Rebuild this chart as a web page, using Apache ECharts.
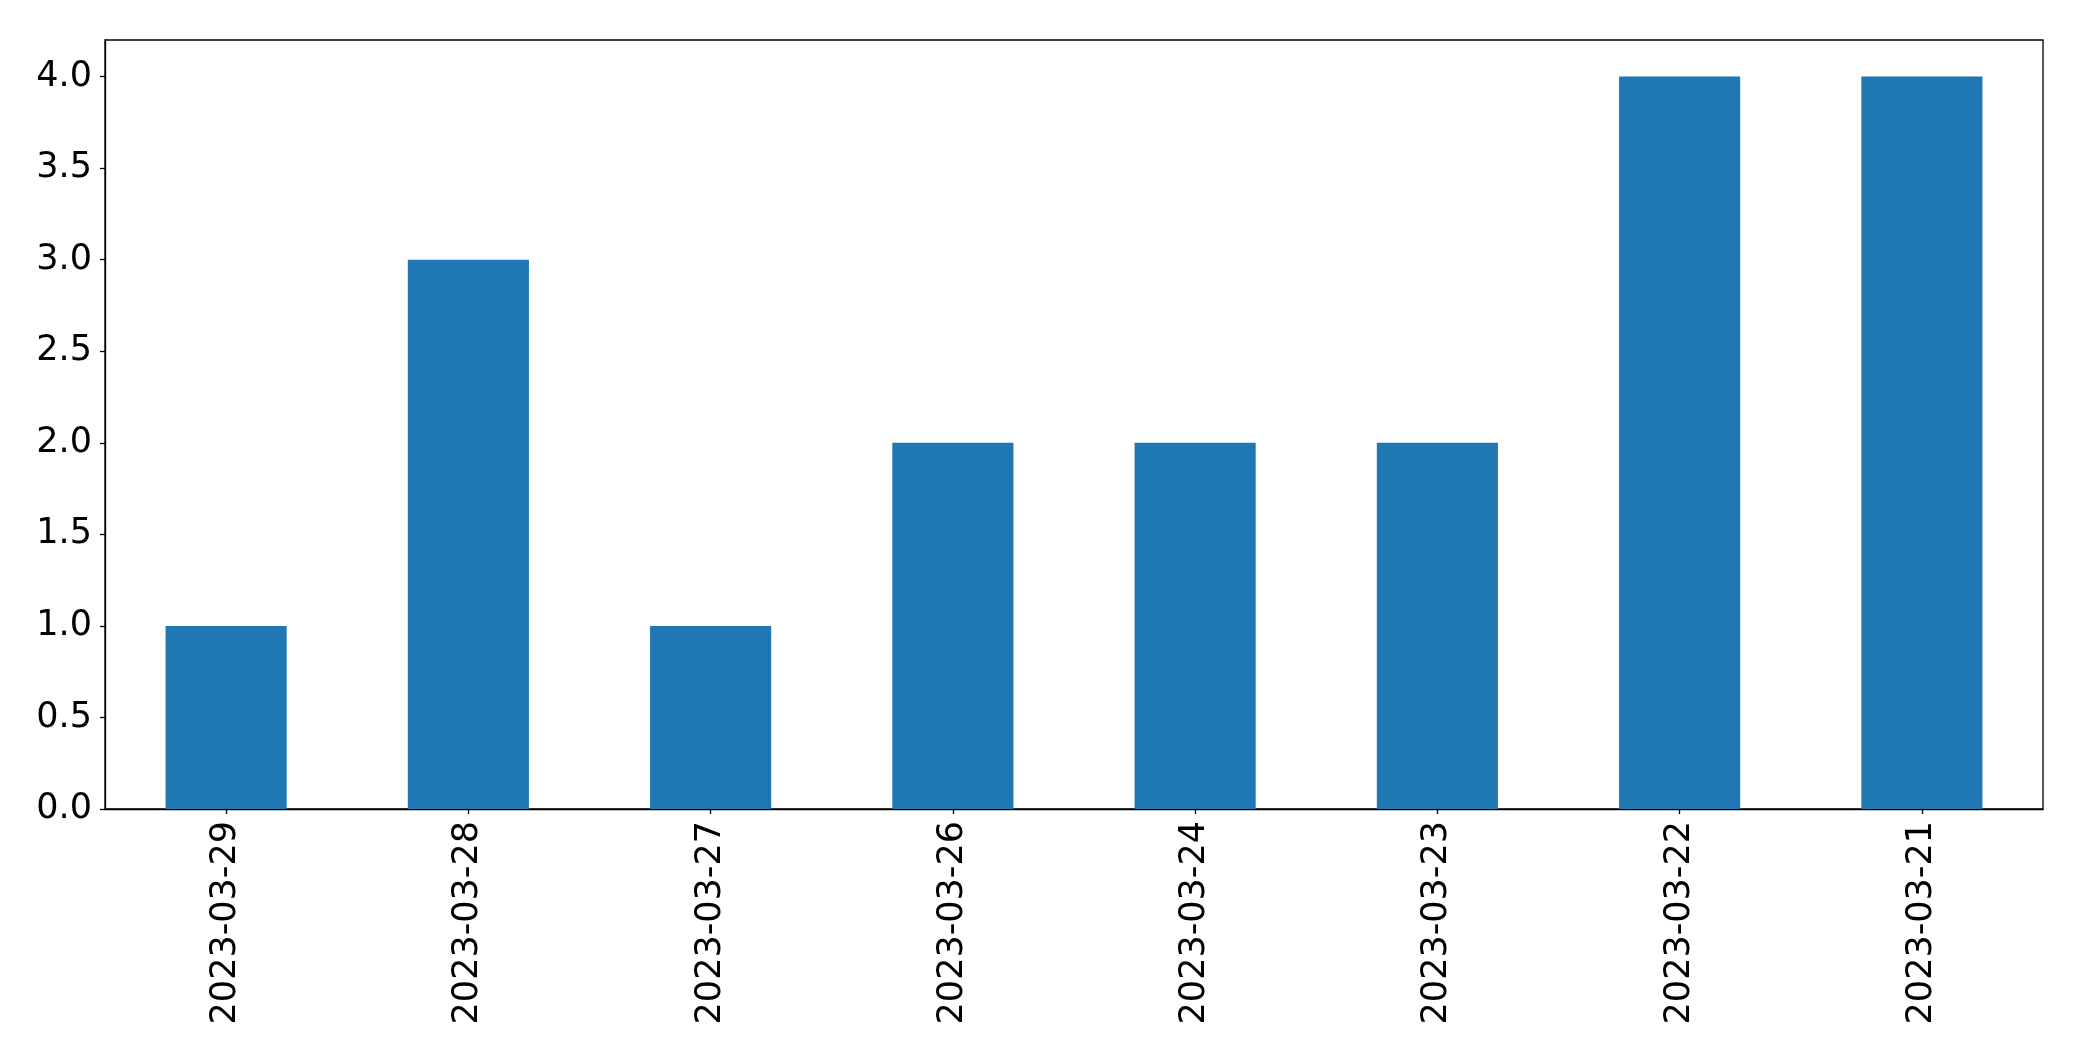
<!DOCTYPE html>
<html>
<head>
<meta charset="utf-8">
<script src="https://cdn.jsdelivr.net/npm/echarts@6/dist/echarts.min.js"></script>
<style>
html,body{margin:0;padding:0;background:#fff;}
#chart{width:2082px;height:1061px;}
</style>
</head>
<body>
<div id="chart"></div>
<script>
const categories = ['2023-03-29','2023-03-28','2023-03-27','2023-03-26','2023-03-24','2023-03-23','2023-03-22','2023-03-21'];
const counts = [1, 3, 1, 2, 2, 2, 4, 4];
const yTicks = [0, 0.5, 1, 1.5, 2, 2.5, 3, 3.5, 4];

const chart = echarts.init(document.getElementById('chart'), null, {renderer: 'canvas'});
const font = 'DejaVu Sans';
chart.setOption({
  animation: false,
  backgroundColor: '#ffffff',
  grid: {
    left: 105, top: 40, width: 1938, height: 769,
    show: true, borderColor: '#000', borderWidth: 1.3, backgroundColor: 'transparent'
  },
  xAxis: {
    type: 'category',
    data: categories,
    boundaryGap: true,
    axisLine: {show: true, lineStyle: {color: '#000', width: 1.3}},
    axisTick: {show: true, alignWithLabel: true, length: 5, lineStyle: {color: '#000', width: 1.3}},
    axisLabel: {rotate: 90, margin: 12, color: '#000', fontSize: 35, fontFamily: font},
    splitLine: {show: false}
  },
  yAxis: {
    type: 'value',
    min: 0, max: 4.2, interval: 0.5,
    axisLine: {show: true, lineStyle: {color: '#000', width: 1.3}},
    axisTick: {show: true, length: 5, lineStyle: {color: '#000', width: 1.3}, customValues: yTicks},
    axisLabel: {margin: 13, color: '#000', fontSize: 35, fontFamily: font, customValues: yTicks,
      formatter: v => Number(v).toFixed(1)},
    splitLine: {show: false}
  },
  series: [{
    type: 'bar',
    data: counts,
    barWidth: '50%',
    itemStyle: {color: '#1f77b4'}
  }]
});
</script>
</body>
</html>
